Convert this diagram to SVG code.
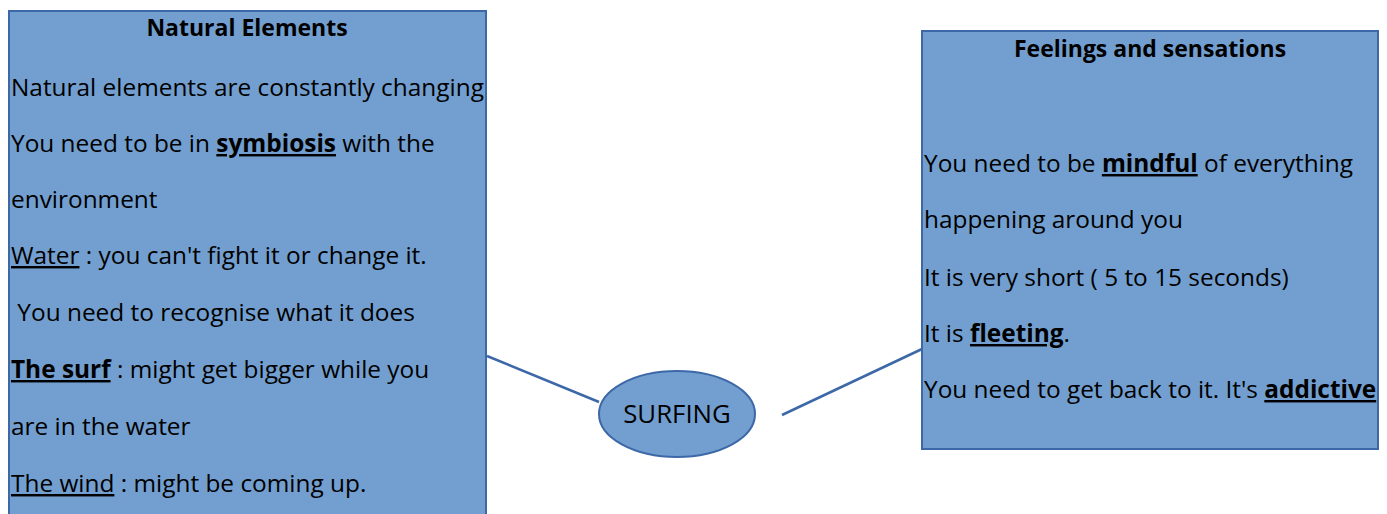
<svg xmlns="http://www.w3.org/2000/svg" width="1387" height="514" viewBox="0 0 1387 514">
<style>
.box{fill:#729fcf;stroke:#3d68a8;stroke-width:2}
.t{font-family:"Open Sans","Liberation Sans",sans-serif;font-size:24.4px;fill:#000}
.h{font-family:"Open Sans","Liberation Sans",sans-serif;font-size:23px;font-weight:bold;fill:#000}
.s{font-size:25.8px}
.b{font-weight:bold;text-decoration:underline}
.u{text-decoration:underline}
.c{stroke:#3d68a8;stroke-width:2.5;fill:none}
</style>
<g id="connectors">
<line class="c" x1="487" y1="356" x2="599" y2="402"/>
<line class="c" x1="782" y1="415" x2="922" y2="349"/>
</g>
<g id="natural-elements">
<rect class="box" x="9" y="11" width="477" height="520"/>
<text class="h" x="247" y="36" text-anchor="middle">Natural Elements</text>
<text class="t" x="11" y="96">Natural elements are constantly changing</text>
<text class="t" x="11" y="152">You need to be in <tspan class="b">symbiosis</tspan> with the</text>
<text class="t" x="11" y="208">environment</text>
<text class="t" x="11" y="264"><tspan class="u">Water</tspan> : you can't fight it or change it.</text>
<text class="t" x="11" y="321" xml:space="preserve"> You need to recognise what it does</text>
<text class="t" x="11" y="378"><tspan class="b">The surf</tspan> : might get bigger while you</text>
<text class="t" x="11" y="435">are in the water</text>
<text class="t" x="11" y="492"><tspan class="u">The wind</tspan> : might be coming up.</text>
</g>
<g id="surfing">
<ellipse class="box" cx="677" cy="414" rx="78" ry="43"/>
<text class="t s" x="677" y="423" text-anchor="middle">SURFING</text>
</g>
<g id="feelings">
<rect class="box" x="922" y="31" width="456" height="418"/>
<text class="h" x="1150" y="57" text-anchor="middle">Feelings and sensations</text>
<text class="t" x="924" y="172">You need to be <tspan class="b">mindful</tspan> of everything</text>
<text class="t" x="924" y="228">happening around you</text>
<text class="t" x="924" y="286">It is very short ( 5 to 15 seconds)</text>
<text class="t" x="924" y="342">It is <tspan class="b">fleeting</tspan>.</text>
<text class="t" x="924" y="398">You need to get back to it. It's <tspan class="b">addictive</tspan></text>
</g>
</svg>
